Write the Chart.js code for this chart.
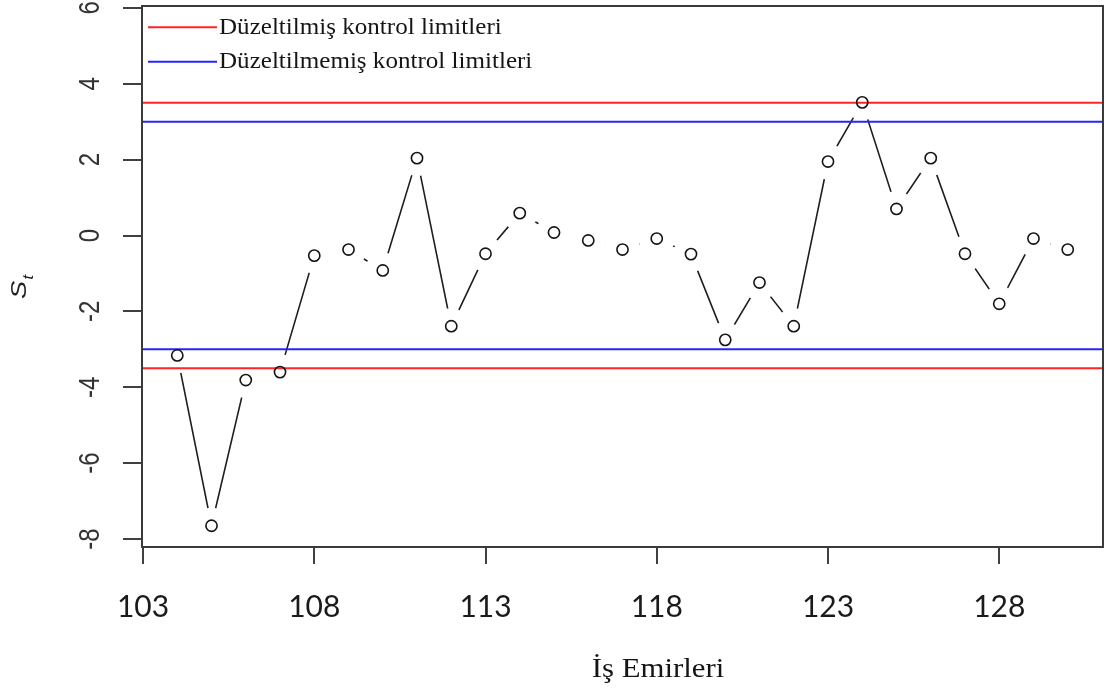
<!DOCTYPE html>
<html>
<head>
<meta charset="utf-8">
<title>S_t kontrol grafiği</title>
<script src="https://cdn.jsdelivr.net/npm/chart.js@4.4.1/dist/chart.umd.min.js"></script>
<style>
  html, body { margin: 0; padding: 0; background: #ffffff; }
  #wrap { width: 1108px; height: 693px; position: relative; }
</style>
</head>
<body>
<div id="wrap"><canvas id="chart" width="1108" height="693"></canvas></div>
<script>
// Work order numbers and the S_t statistic of each order
const ORDERS = [104, 105, 106, 107, 108, 109, 110, 111, 112, 113, 114, 115, 116, 117,
                118, 119, 120, 121, 122, 123, 124, 125, 126, 127, 128, 129, 130];
const S_T = [-3.16, -7.65, -3.81, -3.60, -0.53, -0.37, -0.92, 2.04, -2.39, -0.48, 0.59, 0.08, -0.13, -0.37,
             -0.08, -0.49, -2.75, -1.24, -2.39, 1.95, 3.51, 0.70, 2.04, -0.48, -1.80, -0.08, -0.37];

// Control limits (symmetric around zero)
const ADJUSTED_LIMIT = 3.5;
const UNADJUSTED_LIMIT = 3.0;

// Axis ranges and tick labels
const X_RANGE = [102.97, 131.03];
const Y_RANGE = [-8.21, 6.05];
const X_TICKS = [103, 108, 113, 118, 123, 128];
const Y_TICKS = [-8, -6, -4, -2, 0, 2, 4, 6];

// Texts
const LEGEND_LABELS = ['Düzeltilmiş kontrol limitleri', 'Düzeltilmemiş kontrol limitleri'];
const X_TITLE = 'İş Emirleri';
const Y_TITLE = ['S', 't'];

const RED = 'rgb(255, 36, 36)';
const BLUE = 'rgb(36, 36, 255)';
const INK = '#151515';

const points = ORDERS.map((x, i) => ({ x, y: S_T[i] }));
const hline = v => [{ x: X_RANGE[0], y: v }, { x: X_RANGE[1], y: v }];

// Box, rotated y labels, axis titles and the in-plot legend
const decorations = {
  id: 'decorations',
  afterDraw(chart) {
    const { ctx, chartArea: a } = chart;
    const ys = chart.scales.y;
    ctx.save();

    // frame around the plotting region
    ctx.strokeStyle = '#3a3a3a';
    ctx.lineWidth = 2;
    ctx.strokeRect(a.left, a.top, a.right - a.left, a.bottom - a.top);

    // y tick labels, written along the axis
    ctx.fillStyle = '#333333';
    ctx.font = '30px "Liberation Sans", Arial, sans-serif';
    ctx.textAlign = 'center';
    ctx.textBaseline = 'alphabetic';
    ys.ticks.forEach(t => {
      const py = ys.getPixelForValue(t.value);
      ctx.save();
      ctx.translate(99, py);
      ctx.rotate(-Math.PI / 2);
      ctx.scale(0.8, 1);
      ctx.fillText(String(t.value), 0, 0);
      ctx.restore();
    });

    // y title: S with subscript t
    ctx.save();
    ctx.fillStyle = '#222222';
    ctx.translate(26, 299);
    ctx.rotate(-Math.PI / 2);
    ctx.scale(1.05, 0.85);
    ctx.textAlign = 'left';
    ctx.font = 'italic 26px "Liberation Sans", Arial, sans-serif';
    ctx.fillText(Y_TITLE[0], 0, 0);
    const sw = ctx.measureText(Y_TITLE[0]).width;
    ctx.font = 'italic 17px "Liberation Sans", Arial, sans-serif';
    ctx.fillText(Y_TITLE[1], sw + 1, 8);
    ctx.restore();

    // x title
    ctx.save();
    ctx.fillStyle = INK;
    ctx.font = '28px "Liberation Serif", "Times New Roman", serif';
    ctx.textAlign = 'center';
    ctx.translate(658, 677);
    ctx.scale(1.1, 1);
    ctx.fillText(X_TITLE, 0, 0);
    ctx.restore();

    // legend: line sample followed by its label
    const entries = [
      { color: RED, label: LEGEND_LABELS[0], y: 27.3, base: 33.5 },
      { color: BLUE, label: LEGEND_LABELS[1], y: 61.7, base: 68.2 }
    ];
    entries.forEach(e => {
      ctx.strokeStyle = e.color;
      ctx.lineWidth = 2;
      ctx.beginPath();
      ctx.moveTo(a.left + 6, e.y);
      ctx.lineTo(a.left + 75, e.y);
      ctx.stroke();
      ctx.save();
      ctx.fillStyle = INK;
      ctx.font = '23px "Liberation Serif", "Times New Roman", serif';
      ctx.textAlign = 'left';
      ctx.translate(a.left + 77, e.base);
      ctx.scale(1.09, 1);
      ctx.fillText(e.label, 0, 0);
      ctx.restore();
    });

    ctx.restore();
  }
};

function draw() {
  new Chart(document.getElementById('chart'), {
    type: 'line',
    data: {
      datasets: [
        // open circles on top
        { label: 'S_t', data: points, showLine: false, order: 0,
          pointRadius: 5.6, pointBorderWidth: 1.6, pointBorderColor: INK,
          pointBackgroundColor: 'rgba(0,0,0,0)' },
        // control limits
        { label: LEGEND_LABELS[0], data: hline(ADJUSTED_LIMIT), order: 1,
          borderColor: RED, borderWidth: 2, pointRadius: 0 },
        { label: LEGEND_LABELS[0], data: hline(-ADJUSTED_LIMIT), order: 1,
          borderColor: RED, borderWidth: 2, pointRadius: 0 },
        { label: LEGEND_LABELS[1], data: hline(UNADJUSTED_LIMIT), order: 1,
          borderColor: BLUE, borderWidth: 2, pointRadius: 0 },
        { label: LEGEND_LABELS[1], data: hline(-UNADJUSTED_LIMIT), order: 1,
          borderColor: BLUE, borderWidth: 2, pointRadius: 0 },
        // white halos that open a gap in the path around each point
        { label: 'gap', data: points, showLine: false, order: 2,
          pointRadius: 18, pointBorderWidth: 0, pointBackgroundColor: '#ffffff',
          pointBorderColor: '#ffffff' },
        // connecting path
        { label: 'path', data: points, order: 3,
          borderColor: '#1e1e1e', borderWidth: 1.6, pointRadius: 0, tension: 0 }
      ]
    },
    options: {
      responsive: false,
      animation: false,
      events: [],
      layout: { autoPadding: false, padding: { top: 6, right: 5, left: 0, bottom: 0 } },
      plugins: { legend: { display: false }, tooltip: { enabled: false }, title: { display: false } },
      scales: {
        x: {
          type: 'linear',
          min: X_RANGE[0], max: X_RANGE[1],
          afterBuildTicks: s => { s.ticks = X_TICKS.map(v => ({ value: v })); },
          afterFit: s => { s.height = 146; },
          border: { display: false },
          grid: { drawOnChartArea: false, drawTicks: true, tickLength: 17, tickColor: '#404040', lineWidth: 2 },
          ticks: { autoSkip: false, maxRotation: 0, minRotation: 0, padding: 25, color: '#1a1a1a',
                   font: { family: 'Lato', size: 30 } }
        },
        y: {
          type: 'linear',
          min: Y_RANGE[0], max: Y_RANGE[1],
          afterBuildTicks: s => { s.ticks = Y_TICKS.map(v => ({ value: v })); },
          afterFit: s => { s.width = 142; },
          border: { display: false },
          grid: { drawOnChartArea: false, drawTicks: true, tickLength: 19, tickColor: '#404040', lineWidth: 2 },
          ticks: { display: false }
        }
      }
    },
    plugins: [decorations]
  });
}

const fontLoads = ['30px Lato', '30px "Liberation Sans"', 'italic 26px "Liberation Sans"', '28px "Liberation Serif"']
  .map(f => document.fonts.load(f).catch(() => null));
Promise.all(fontLoads).then(draw, draw);
</script>
</body>
</html>
